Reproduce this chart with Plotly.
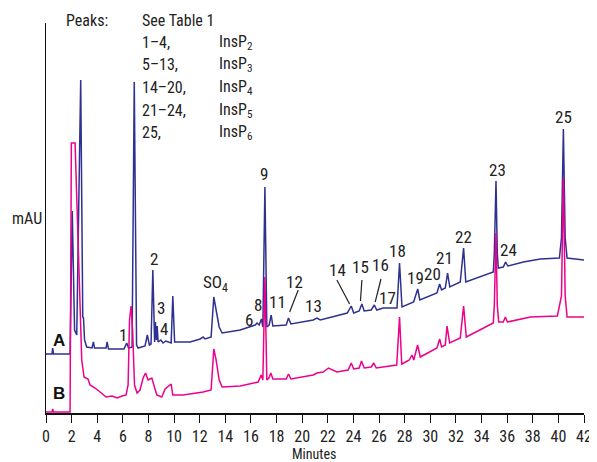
import plotly.graph_objects as go

# ---------------- data ----------------
time_a = [0.00, 0.47, 0.52, 0.59, 1.88, 2.05, 2.23, 2.40, 2.71, 2.87, 2.93, 3.01, 3.18, 3.59, 3.70, 3.79,
          4.69, 4.77, 4.88, 6.09, 6.30, 6.45, 6.72, 6.89, 7.07, 7.19, 7.73, 7.91, 8.07, 8.20, 8.34, 8.48,
          8.54, 8.62, 8.68, 8.75, 8.96, 9.14, 9.35, 9.77, 9.90, 10.04, 11.25, 12.03, 12.27, 12.42, 12.89,
          13.10, 13.28, 13.52, 13.75, 15.16, 16.33, 16.48, 16.64, 16.82, 16.93, 17.09, 17.24, 17.42, 17.58,
          17.71, 18.75, 18.93, 19.12, 20.86, 21.15, 21.41, 23.52, 23.83, 24.02, 24.45, 24.66, 24.84, 25.39,
          25.63, 25.82, 26.33, 27.40, 27.60, 27.79, 28.70, 29.02, 29.18, 30.52, 30.73, 30.88, 31.17, 31.35,
          31.52, 32.34, 32.60, 32.77, 34.92, 35.00, 35.13, 35.23, 35.31, 35.70, 35.88, 36.05, 37.27, 38.59,
          40.08, 40.24, 40.39, 40.53, 40.68, 42.00]
mau_a = [59, 59, 65, 59, 59, 202, 83, 78, 333, 96, 95, 73, 66, 65, 71, 65,
         65, 71, 64, 64, 70, 65, 66, 331, 68, 65, 67, 78, 68, 69, 143, 71,
         91, 73, 87, 71, 73, 70, 72, 70, 117, 71, 71, 74, 76, 74, 76,
         116, 103, 86, 80, 83, 88, 90, 88, 94, 86, 226, 86, 88, 98,
         87, 88, 95, 89, 93, 95, 93, 100, 107, 100, 102, 109, 102, 103,
         108, 103, 105, 105, 150, 106, 111, 124, 113, 120, 129, 123, 125, 140,
         126, 131, 165, 131, 141, 160, 232, 160, 145, 146, 151, 147, 151, 154,
         155, 175, 284, 175, 155, 153]

time_b = [0.00, 0.47, 0.52, 0.59, 1.88, 1.98, 2.27, 2.60, 2.79, 2.97, 3.28, 3.44, 3.83, 4.22, 4.69, 5.16,
          5.55, 5.94, 6.25, 6.41, 6.52, 6.64, 6.76, 6.91, 7.11, 7.34, 7.58, 7.77, 7.97, 8.26, 8.38, 8.65,
          9.04, 9.30, 9.77, 9.90, 10.70, 12.27, 12.89, 13.10, 13.28, 13.52, 13.75, 15.16, 16.56, 16.80,
          16.93, 17.09, 17.24, 17.40, 17.55, 17.71, 18.75, 18.93, 19.12, 20.86, 21.15, 21.64, 22.05, 22.71,
          23.59, 23.83, 24.02, 24.45, 24.63, 24.84, 25.39, 25.59, 25.78, 27.11, 27.38, 27.60, 27.77, 27.93,
          28.36, 28.57, 28.71, 29.01, 29.22, 30.52, 30.73, 30.88, 31.17, 31.31, 31.51, 32.34, 32.60, 32.81,
          34.92, 35.00, 35.13, 35.23, 35.34, 35.70, 35.86, 36.02, 37.81, 39.92, 40.24, 40.39, 40.53, 40.68,
          42.00]
mau_b = [1, 1, 4, 1, 1, 270, 270, 143, 53, 36, 34, 28, 25, 21, 16, 17,
         15, 17, 18, 28, 93, 107, 83, 28, 20, 23, 35, 40, 33, 35, 30, 18,
         16, 24, 29, 18, 18, 21, 23, 64, 53, 33, 26, 27, 31, 38,
         33, 136, 33, 35, 40, 34, 34, 39, 34, 38, 40, 41, 45, 41,
         43, 50, 44, 45, 52, 45, 46, 50, 45, 47, 48, 96, 49, 50,
         53, 58, 53, 68, 56, 65, 74, 66, 68, 87, 70, 75, 107, 76,
         90, 108, 180, 108, 91, 91, 96, 91, 96, 97, 117, 235, 117, 96,
         96]

x_ticks = list(range(0, 43, 2))

peak_labels = ["1", "2", "3", "4", "SO<sub>4</sub>", "6", "8", "9", "11", "12", "13", "14", "15", "16",
               "17", "18", "19", "20", "21", "22", "23", "24", "25"]
label_time = [6.02, 8.44, 8.98, 9.22, 13.25, 15.86, 16.52, 17.03, 18.05, 19.38, 20.86, 22.73, 24.57, 26.09,
              26.68, 27.46, 28.87, 30.20, 31.12, 32.58, 35.23, 36.09, 40.39]
label_mau = [78, 154, 105, 84, 130, 93, 108, 239, 111, 131, 107, 143, 146, 148,
             115, 162, 135, 139, 155, 176, 243, 163, 296]

legend_ranges = ["1–4,", "5–13,", "14–20,", "21–24,", "25,"]
legend_names = ["InsP<sub>2</sub>", "InsP<sub>3</sub>", "InsP<sub>4</sub>", "InsP<sub>5</sub>", "InsP<sub>6</sub>"]

# leader lines (label -> peak), minutes / mAU
leaders = [((19.69, 123), (19.02, 101)),
           ((22.71, 133), (23.70, 109)),
           ((24.66, 133), (24.55, 112)),
           ((26.15, 134), (25.70, 111))]

# ---------------- figure ----------------
FONT = "Liberation Sans Narrow, Roboto Condensed, Roboto, Arial, sans-serif"
BLUE = "#2E3192"
PINK = "#EC008C"
TXT = "#222222"

# the page body has an 8px margin, so the figure is drawn 8px smaller and offset
OFF = 8
W, H = 597 - OFF, 462 - OFF
L, T, PW, PH = 46 - OFF, 23 - OFF, 537.6, 390

fig = go.Figure()
fig.add_trace(go.Scatter(x=time_a, y=mau_a, mode="lines", line=dict(color=BLUE, width=1.5),
                         showlegend=False, hoverinfo="skip"))
fig.add_trace(go.Scatter(x=time_b, y=mau_b, mode="lines", line=dict(color=PINK, width=1.5),
                         showlegend=False, hoverinfo="skip"))

ann = []
for lab, tx, ty in zip(peak_labels, label_time, label_mau):
    ann.append(dict(x=tx, y=ty, xref="x", yref="y", text=lab, showarrow=False,
                    font=dict(family=FONT, size=17, color=TXT), xanchor="center", yanchor="middle"))
ann.append(dict(x=1.02, y=73, xref="x", yref="y", text="<b>A</b>", showarrow=False,
                font=dict(family="Liberation Sans, Arial, sans-serif", size=17, color="#111")))
ann.append(dict(x=1.02, y=20, xref="x", yref="y", text="<b>B</b>", showarrow=False,
                font=dict(family="Liberation Sans, Arial, sans-serif", size=17, color="#111")))


def px2paper_x(px):
    return (px - OFF - L) / PW


def py2paper_y(py):
    return (T + PH - (py - OFF)) / PH


def text_ann(px, py, text, anchor="left", size=16):
    return dict(x=px2paper_x(px), y=py2paper_y(py), xref="paper", yref="paper", text=text,
                showarrow=False, font=dict(family=FONT, size=size, color=TXT),
                xanchor=anchor, yanchor="middle")


ann.append(text_ann(27, 218, "mAU", "center"))
ann.append(text_ann(314, 454, "Minutes", "center", 14))
ann.append(text_ann(64, 20, "Peaks:"))
ann.append(text_ann(140, 20, "See Table 1"))
for i, (r, n) in enumerate(zip(legend_ranges, legend_names)):
    yy = 42.5 + 22.5 * i
    ann.append(text_ann(140, yy, r))
    ann.append(text_ann(217, yy, n))

shapes = []
for (x0, y0), (x1, y1) in leaders:
    shapes.append(dict(type="line", x0=x0, y0=y0, x1=x1, y1=y1, xref="x", yref="y",
                       line=dict(color=TXT, width=1.2)))

fig.update_layout(
    width=W, height=H,
    margin=dict(l=L, r=W - L - PW, t=T, b=H - T - PH, autoexpand=False),
    paper_bgcolor="white", plot_bgcolor="white",
    annotations=ann, shapes=shapes,
    xaxis=dict(range=[0, 42], tickvals=x_ticks, ticktext=[str(v) for v in x_ticks],
               ticks="outside", ticklen=8, tickwidth=1.2, tickcolor="#111", automargin=False,
               showline=True, linecolor="#111", linewidth=1.5, showgrid=False, zeroline=False,
               tickfont=dict(family=FONT, size=16, color=TXT)),
    yaxis=dict(range=[0, 390], showticklabels=False, ticks="", showline=True, linecolor="#111",
               automargin=False, linewidth=1.2, showgrid=False, zeroline=False),
)

fig.write_html("out.html")
